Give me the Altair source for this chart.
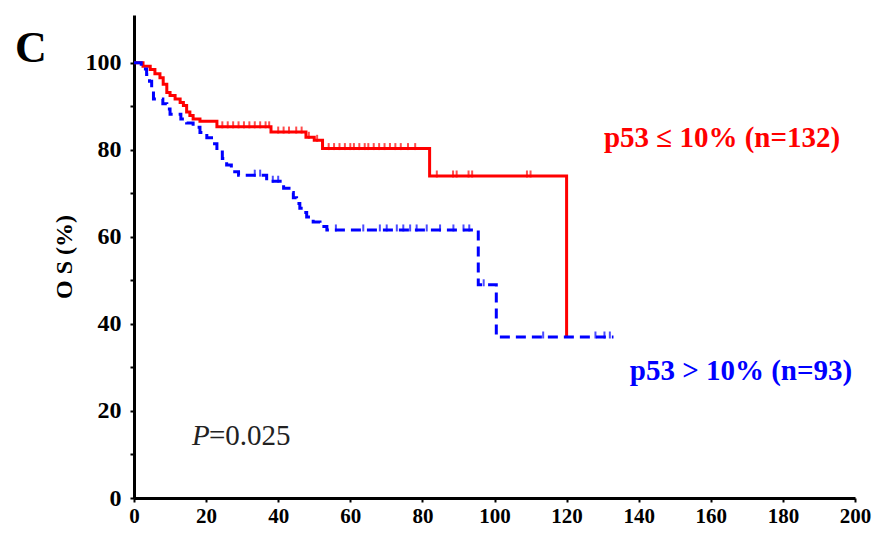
import altair as alt
import pandas as pd

# ---- data ----
red_time = [0, 2.5, 4.5, 5.8, 7.2, 8.1, 9.1, 10.0, 11.4, 12.8, 13.7, 14.6, 15.5, 16.4,
            18.3, 23.0, 38.0, 47.7, 50.0, 52.3, 82.0, 120.0]
red_surv = [100, 99.2, 98.5, 97.5, 96.6, 95.1, 93.2, 92.5, 91.7, 90.9, 90.2, 88.7, 87.9, 87.1,
            86.6, 85.3, 84.1, 82.9, 82.2, 80.3, 74.0, 37.0]
red_censor = [24.5, 26, 27.5, 29, 30.5, 32, 33.5, 35, 36.5, 37.5,
              40, 41.5, 43, 45, 46.5, 48.5, 50.8,
              54, 55.5, 57, 58.5, 60, 61, 62.5, 64, 65, 66.5, 68, 69.5, 71, 72.5, 74, 76, 78,
              84, 88.5, 89.5, 92.8, 93.8, 109, 110]

blue_time = [0, 2.0, 3.5, 4.3, 4.9, 5.4, 8.0, 9.1, 10.0, 13.0, 14.6, 16.4, 18.3, 20.2, 21.5,
             23.0, 24.5, 25.7, 27.0, 29.0, 36.8, 41.5, 43.0, 44.2, 45.1, 46.0, 47.0, 47.9,
             49.7, 51.6, 53.5, 95.5, 100.5, 133.0]
blue_surv = [100, 98.6, 97.3, 95.8, 93.8, 91.7, 90.6, 89.4, 88.2, 87.1, 86.2, 85.2, 84.0, 82.8, 81.4,
             79.5, 78.0, 76.5, 75.0, 74.2, 72.8, 71.2, 70.2, 69.0, 67.7, 66.6, 65.6, 64.6,
             63.4, 62.4, 61.6, 49.0, 37.0, 37.0]
blue_censor = [33.5, 35.0, 38.5, 40.0, 56, 63.6, 68.2, 70.1, 72.9, 74.7, 76.6, 78.4, 81.2,
               84.9, 88.6, 91.4, 93.0, 97.0, 113.5, 128, 130.5, 132]

x_ticks = list(range(0, 201, 20))
y_ticks = list(range(0, 101, 10))

red_label = "p53 \u2264 10% (n=132)"
blue_label = "p53 > 10% (n=93)"
p_label = "P"
p_value = "=0.025"
panel_label = "C"

RED = "#ff0000"
BLUE = "#0000ff"
SERIF = "Liberation Serif"


def surv_at(times, survs, t):
    s = survs[0]
    for tt, ss in zip(times, survs):
        if tt <= t:
            s = ss
    return s


red_df = pd.DataFrame({"t": red_time, "s": red_surv})
blue_df = pd.DataFrame({"t": blue_time, "s": blue_surv})
red_c = pd.DataFrame({"t": red_censor, "s": [surv_at(red_time, red_surv, t) for t in red_censor]})
blue_c = pd.DataFrame({"t": blue_censor, "s": [surv_at(blue_time, blue_surv, t) for t in blue_censor]})

xenc = alt.X("t:Q", scale=alt.Scale(domain=[0, 200], nice=False),
             axis=alt.Axis(values=x_ticks, title=None, labelFlush=False, labelOverlap=False,
                           labelPadding=3, labelFontSize=21))
yenc = alt.Y("s:Q", scale=alt.Scale(domain=[0, 111], nice=False, zero=False),
             axis=alt.Axis(values=y_ticks, labelExpr="datum.value % 20 == 0 ? datum.label : ''",
                           title="O S (%)", titleFont=SERIF, titleFontWeight="bold",
                           titleFontSize=24, titlePadding=9, titleColor="black",
                           labelOverlap=False, labelPadding=9, labelFontSize=24))

red_line = alt.Chart(red_df).mark_line(interpolate="step-after", color=RED, strokeWidth=3).encode(
    x=xenc, y=yenc)
blue_line = alt.Chart(blue_df).mark_line(interpolate="step-after", color=BLUE, strokeWidth=3,
                                         strokeDash=[10, 6]).encode(x="t:Q", y="s:Q")
red_ticks = alt.Chart(red_c).mark_tick(orient="vertical", color=RED, size=7, thickness=2,
                                       yOffset=-2).encode(x="t:Q", y="s:Q")
blue_ticks = alt.Chart(blue_c).mark_tick(orient="vertical", color=BLUE, size=7, thickness=2,
                                         yOffset=-2).encode(x="t:Q", y="s:Q")


def label(txt, x, y, color, size, weight="bold", style="normal", align="center"):
    return alt.Chart(pd.DataFrame({"txt": [txt]})).mark_text(
        font=SERIF, fontSize=size, fontWeight=weight, fontStyle=style, color=color,
        align=align, baseline="alphabetic").encode(
        x=alt.value(x), y=alt.value(y), text="txt:N")


texts = [
    label(red_label, 588, 132, RED, 29),
    label(blue_label, 607, 365, BLUE, 29),
    label(p_label, 58, 430, "#222222", 29, weight="normal", style="italic", align="left"),
    label(p_value, 75, 430, "#222222", 29, weight="normal", align="left"),
    label(panel_label, -103, 47, "black", 44),
]

chart = alt.layer(red_line, blue_line, red_ticks, blue_ticks, *texts).properties(
    width=721, height=483,
    autosize=alt.AutoSizeParams(type="none"),
    padding={"left": 126, "top": 7, "right": 20, "bottom": 28},
).configure_view(stroke=None).configure_axis(
    grid=False, domainColor="black", domainWidth=3, tickColor="black", tickWidth=2,
    tickSize=4, labelFont=SERIF, labelFontWeight="bold", labelColor="black",
)

chart.save("out.html", embed_options={"renderer": "svg", "actions": False})
